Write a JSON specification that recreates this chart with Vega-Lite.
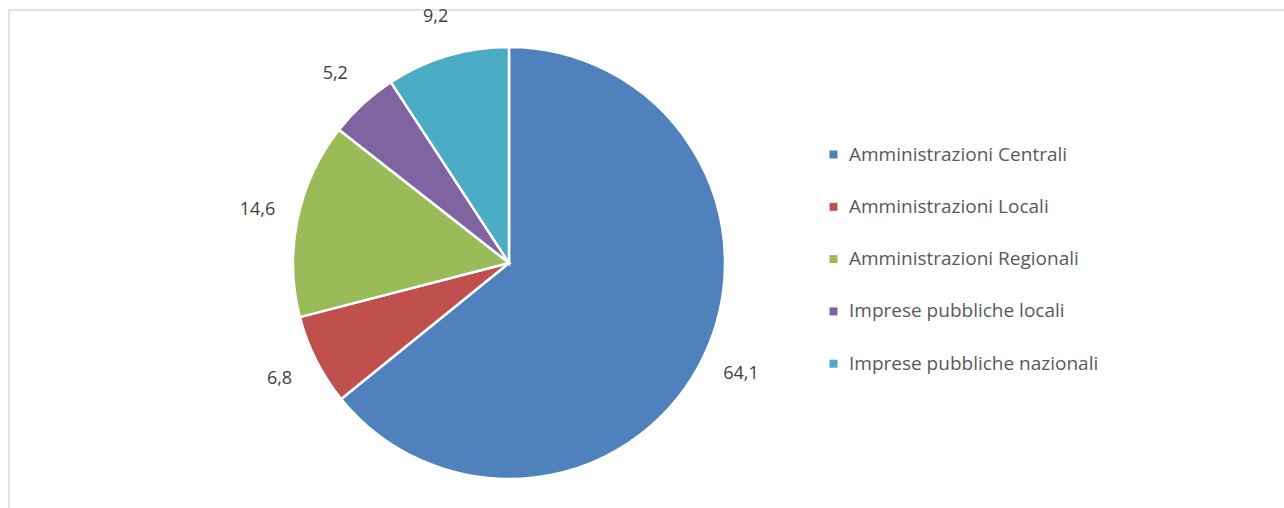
{
  "$schema": "https://vega.github.io/schema/vega-lite/v6.json",
  "autosize": {"type": "none"},
  "width": 1290,
  "height": 510,
  "padding": {"left": 9, "top": 10, "right": 0, "bottom": 0},
  "background": "white",
  "config": {
    "view": {"stroke": "#d9d9d9", "strokeWidth": 1.5},
    "locale": {"number": {"decimal": ",", "thousands": ".", "grouping": [3], "currency": ["€", ""]}},
    "font": "Open Sans"
  },
  "data": {
    "values": [
      {"categoria": "Amministrazioni Centrali", "valore": 64.1},
      {"categoria": "Amministrazioni Locali", "valore": 6.8},
      {"categoria": "Amministrazioni Regionali", "valore": 14.6},
      {"categoria": "Imprese pubbliche locali", "valore": 5.2},
      {"categoria": "Imprese pubbliche nazionali", "valore": 9.2}
    ]
  },
  "layer": [
    {
      "mark": {"type": "point", "opacity": 0},
      "encoding": {
        "x": {"field": "valore", "type": "quantitative", "axis": null},
        "y": {"field": "valore", "type": "quantitative", "axis": null}
      }
    },
    {
      "mark": {"type": "arc", "outerRadius": 216, "stroke": "white", "strokeWidth": 2.5, "xOffset": -145, "yOffset": -2},
      "encoding": {
        "theta": {"field": "valore", "type": "quantitative", "stack": true},
        "order": {"field": "categoria", "sort": "ascending"},
        "color": {
          "field": "categoria",
          "type": "nominal",
          "scale": {
            "domain": ["Amministrazioni Centrali", "Amministrazioni Locali", "Amministrazioni Regionali", "Imprese pubbliche locali", "Imprese pubbliche nazionali"],
            "range": ["#4F81BD", "#C0504D", "#9BBB59", "#8064A2", "#4BACC6"]
          },
          "legend": {
            "title": null,
            "orient": "none",
            "legendX": 815,
            "legendY": 135,
            "padding": 0,
            "symbolType": "square",
            "symbolSize": 64,
            "symbolStrokeWidth": 0,
            "labelFont": "Open Sans",
            "labelFontSize": 19,
            "labelColor": "#595959",
            "labelOffset": 6,
            "rowPadding": 32.3,
            "labelLimit": 400
          }
        }
      }
    },
    {
      "mark": {"type": "text", "radius": 257, "xOffset": -145, "yOffset": -2, "fontSize": 18, "color": "#404040", "font": "Open Sans"},
      "encoding": {
        "theta": {"field": "valore", "type": "quantitative", "stack": true},
        "order": {"field": "categoria", "sort": "ascending"},
        "text": {"field": "valore", "type": "quantitative", "format": ".1f"}
      }
    }
  ]
}
